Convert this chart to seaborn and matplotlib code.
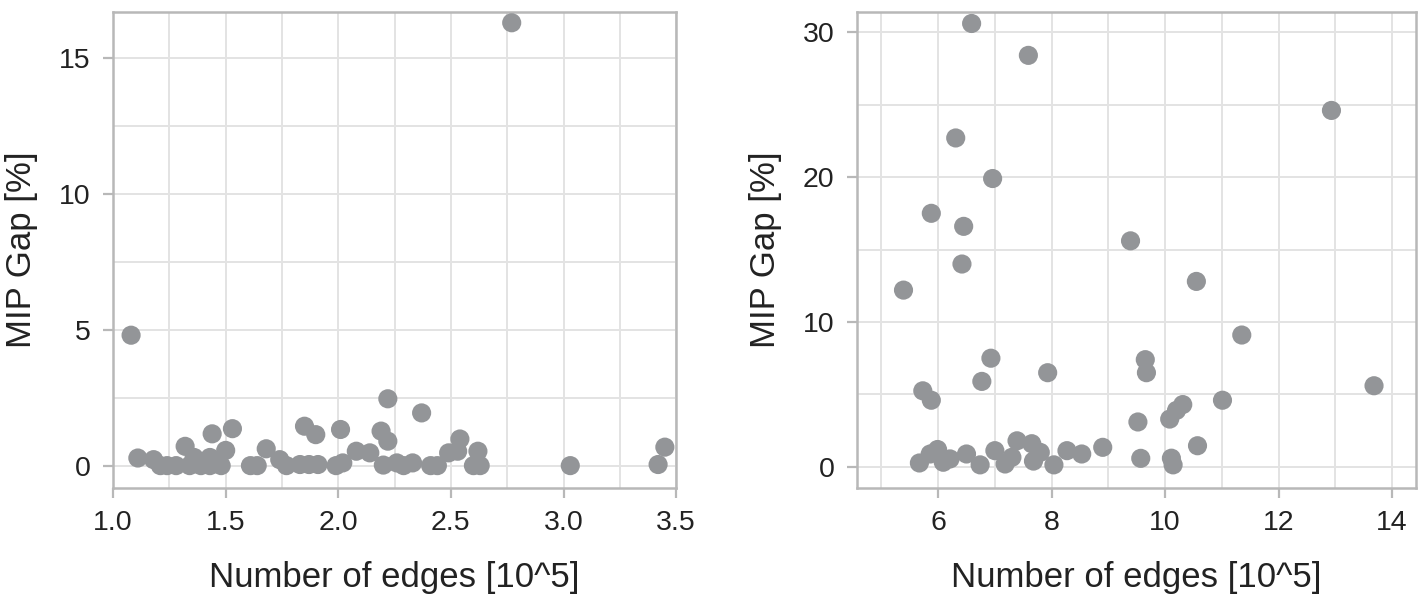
import matplotlib
matplotlib.use("Agg")
import matplotlib.pyplot as plt
from matplotlib.ticker import MultipleLocator
import seaborn as sns
import pandas as pd

# left panel: smaller instances
left_x = [1.08, 1.11, 1.18, 1.21, 1.24, 1.28, 1.32, 1.34, 1.36, 1.39, 1.43, 1.43, 1.44,
          1.48, 1.50, 1.53, 1.61, 1.64, 1.68, 1.74, 1.77, 1.83, 1.85, 1.87, 1.90, 1.91,
          1.99, 2.01, 2.02, 2.08, 2.14, 2.19, 2.20, 2.22, 2.22, 2.26, 2.29, 2.33, 2.37,
          2.41, 2.44, 2.49, 2.53, 2.54, 2.60, 2.62, 2.63, 2.77, 3.03, 3.42, 3.45]
left_y = [4.80, 0.28, 0.22, 0.00, 0.00, 0.00, 0.71, 0.00, 0.30, 0.00, 0.00, 0.30, 1.17,
          0.00, 0.56, 1.36, 0.00, 0.00, 0.62, 0.22, 0.00, 0.04, 1.45, 0.04, 1.14, 0.04,
          0.00, 1.33, 0.10, 0.53, 0.47, 1.27, 0.02, 2.46, 0.90, 0.10, 0.00, 0.10, 1.94,
          0.00, 0.00, 0.47, 0.53, 0.98, 0.00, 0.53, 0.00, 16.30, 0.00, 0.04, 0.68]

# right panel: larger instances
right_x = [5.39, 5.67, 5.73, 5.86, 5.88, 5.88, 5.99, 6.09, 6.21, 6.31, 6.42, 6.45, 6.50,
           6.59, 6.74, 6.77, 6.93, 6.96, 7.00, 7.18, 7.30, 7.39, 7.59, 7.65, 7.68, 7.80,
           7.93, 8.04, 8.27, 8.53, 8.90, 9.39, 9.52, 9.57, 9.65, 9.67, 10.08, 10.11, 10.14,
           10.20, 10.31, 10.55, 10.57, 11.01, 11.35, 12.93, 13.68]
right_y = [12.2, 0.27, 5.25, 0.89, 17.5, 4.6, 1.2, 0.32, 0.55, 22.7, 14.0, 16.6, 0.89,
           30.6, 0.14, 5.9, 7.5, 19.9, 1.12, 0.2, 0.66, 1.8, 28.4, 1.6, 0.4, 1.0,
           6.5, 0.14, 1.12, 0.89, 1.35, 15.6, 3.1, 0.59, 7.4, 6.5, 3.3, 0.6, 0.14,
           3.9, 4.3, 12.8, 1.46, 4.6, 9.1, 24.6, 5.6]

df_left = pd.DataFrame({"edges": left_x, "gap": left_y})
df_right = pd.DataFrame({"edges": right_x, "gap": right_y})

sns.set_theme(style="whitegrid")
plt.rcParams["font.family"] = ["Liberation Sans", "DejaVu Sans"]

fig = plt.figure(figsize=(14.24, 5.95), dpi=100)
ax1 = fig.add_axes([0.0794, 0.180, 0.3954, 0.800])
ax2 = fig.add_axes([0.6018, 0.180, 0.3926, 0.800])

punto = "#939598"
borde = "#b8b8b8"
rejilla = "#e3e3e3"

for ax, df in [(ax1, df_left), (ax2, df_right)]:
    sns.scatterplot(x="edges", y="gap", data=df, ax=ax, color=punto, s=190,
                    edgecolor="none", linewidth=0, zorder=3)
    ax.set_xlabel("Number of edges [10^5]", fontsize=25, color="#222222", labelpad=18)
    ax.set_ylabel("MIP Gap [%]", fontsize=25, color="#222222", labelpad=15)
    ax.grid(which="both", color=rejilla, linewidth=1.4)
    for sp in ax.spines.values():
        sp.set_color(borde)
        sp.set_linewidth(1.8)
    ax.tick_params(which="major", direction="out", length=7, width=1.6, color=borde,
                   labelsize=20.5, labelcolor="#222222", pad=9, bottom=True, left=True)
    ax.tick_params(which="minor", length=0)
    ax.set_axisbelow(True)

ax1.set_xlim(1.0, 3.5)
ax1.set_ylim(-0.82, 16.7)
ax1.xaxis.set_major_locator(MultipleLocator(0.5))
ax1.xaxis.set_minor_locator(MultipleLocator(0.25))
ax1.yaxis.set_major_locator(MultipleLocator(5))
ax1.yaxis.set_minor_locator(MultipleLocator(2.5))
ax1.xaxis.set_major_formatter(matplotlib.ticker.FormatStrFormatter("%.1f"))

ax2.set_xlim(4.57, 14.42)
ax2.set_ylim(-1.45, 31.4)
ax2.xaxis.set_major_locator(MultipleLocator(2))
ax2.xaxis.set_minor_locator(MultipleLocator(1))
ax2.yaxis.set_major_locator(MultipleLocator(10))
ax2.yaxis.set_minor_locator(MultipleLocator(5))

fig.savefig("out.png", dpi=100)
